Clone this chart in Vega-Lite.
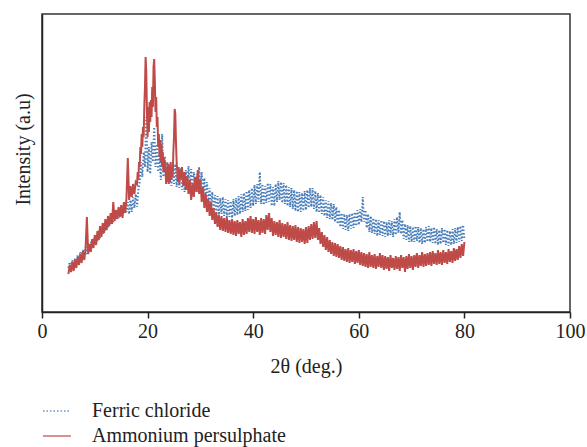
{
"$schema":"https://vega.github.io/schema/vega-lite/v6.json",
"width":528,"height":298,
"autosize":{"type":"none"},
"padding":{"left":42,"top":14,"right":17,"bottom":135},
"background":"white",
"config":{"view":{"stroke":"#333","strokeWidth":1.5},"font":"'Liberation Serif', 'Times New Roman', serif"},
"data":{"values":[
{"s":"F","t":5,"i":44},{"s":"F","t":5.25,"i":50},{"s":"F","t":5.5,"i":42},{"s":"F","t":5.75,"i":52},{"s":"F","t":6,"i":45},{"s":"F","t":6.25,"i":54},{"s":"F","t":6.5,"i":47},{"s":"F","t":6.75,"i":57},{"s":"F","t":7,"i":49},{"s":"F","t":7.25,"i":60},{"s":"F","t":7.5,"i":52},{"s":"F","t":7.75,"i":62},{"s":"F","t":8,"i":55},{"s":"F","t":8.25,"i":65},{"s":"F","t":8.5,"i":58},{"s":"F","t":8.75,"i":67},{"s":"F","t":9,"i":61},{"s":"F","t":9.25,"i":70},{"s":"F","t":9.5,"i":64},{"s":"F","t":9.75,"i":74},
{"s":"F","t":10,"i":67},{"s":"F","t":10.25,"i":77},{"s":"F","t":10.5,"i":71},{"s":"F","t":10.75,"i":81},{"s":"F","t":11,"i":74},{"s":"F","t":11.25,"i":84},{"s":"F","t":11.5,"i":78},{"s":"F","t":11.75,"i":88},{"s":"F","t":12,"i":81},{"s":"F","t":12.25,"i":91},{"s":"F","t":12.5,"i":84},{"s":"F","t":12.75,"i":94},{"s":"F","t":13,"i":87},{"s":"F","t":13.25,"i":96},{"s":"F","t":13.5,"i":90},{"s":"F","t":13.75,"i":99},{"s":"F","t":14,"i":92},{"s":"F","t":14.25,"i":101},{"s":"F","t":14.5,"i":94},{"s":"F","t":14.75,"i":103},
{"s":"F","t":15,"i":96},{"s":"F","t":15.25,"i":105},{"s":"F","t":15.5,"i":98},{"s":"F","t":15.75,"i":107},{"s":"F","t":16,"i":100},{"s":"F","t":16.25,"i":110},{"s":"F","t":16.5,"i":98},{"s":"F","t":16.75,"i":112},{"s":"F","t":17,"i":100},{"s":"F","t":17.25,"i":115},{"s":"F","t":17.5,"i":104},{"s":"F","t":17.75,"i":118},{"s":"F","t":18,"i":105},{"s":"F","t":18.25,"i":122},{"s":"F","t":18.5,"i":130},{"s":"F","t":18.75,"i":150},{"s":"F","t":19,"i":135},{"s":"F","t":19.25,"i":160},{"s":"F","t":19.5,"i":145},{"s":"F","t":19.75,"i":195},
{"s":"F","t":20,"i":140},{"s":"F","t":20.25,"i":165},{"s":"F","t":20.5,"i":138},{"s":"F","t":20.75,"i":170},{"s":"F","t":21,"i":150},{"s":"F","t":21.25,"i":185},{"s":"F","t":21.5,"i":145},{"s":"F","t":21.75,"i":168},{"s":"F","t":22,"i":140},{"s":"F","t":22.25,"i":158},{"s":"F","t":22.5,"i":132},{"s":"F","t":22.75,"i":178},{"s":"F","t":23,"i":135},{"s":"F","t":23.25,"i":156},{"s":"F","t":23.5,"i":130},{"s":"F","t":23.75,"i":150},{"s":"F","t":24,"i":128},{"s":"F","t":24.25,"i":148},{"s":"F","t":24.5,"i":126},{"s":"F","t":24.75,"i":146},
{"s":"F","t":25,"i":128},{"s":"F","t":25.25,"i":148},{"s":"F","t":25.5,"i":125},{"s":"F","t":25.75,"i":145},{"s":"F","t":26,"i":124},{"s":"F","t":26.25,"i":144},{"s":"F","t":26.5,"i":122},{"s":"F","t":26.75,"i":140},{"s":"F","t":27,"i":120},{"s":"F","t":27.25,"i":142},{"s":"F","t":27.5,"i":122},{"s":"F","t":27.75,"i":146},{"s":"F","t":28,"i":125},{"s":"F","t":28.25,"i":143},{"s":"F","t":28.5,"i":120},{"s":"F","t":28.75,"i":140},{"s":"F","t":29,"i":122},{"s":"F","t":29.25,"i":138},{"s":"F","t":29.5,"i":120},{"s":"F","t":29.75,"i":145},
{"s":"F","t":30,"i":126},{"s":"F","t":30.25,"i":140},{"s":"F","t":30.5,"i":118},{"s":"F","t":30.75,"i":134},{"s":"F","t":31,"i":112},{"s":"F","t":31.25,"i":130},{"s":"F","t":31.5,"i":108},{"s":"F","t":31.75,"i":124},{"s":"F","t":32,"i":104},{"s":"F","t":32.25,"i":120},{"s":"F","t":32.5,"i":100},{"s":"F","t":32.75,"i":117},{"s":"F","t":33,"i":99},{"s":"F","t":33.25,"i":116},{"s":"F","t":33.5,"i":97},{"s":"F","t":33.75,"i":114},{"s":"F","t":34,"i":98},{"s":"F","t":34.25,"i":115},{"s":"F","t":34.5,"i":96},{"s":"F","t":34.75,"i":113},
{"s":"F","t":35,"i":95},{"s":"F","t":35.25,"i":112},{"s":"F","t":35.5,"i":95},{"s":"F","t":35.75,"i":111},{"s":"F","t":36,"i":94},{"s":"F","t":36.25,"i":113},{"s":"F","t":36.5,"i":96},{"s":"F","t":36.75,"i":114},{"s":"F","t":37,"i":97},{"s":"F","t":37.25,"i":116},{"s":"F","t":37.5,"i":98},{"s":"F","t":37.75,"i":118},{"s":"F","t":38,"i":100},{"s":"F","t":38.25,"i":119},{"s":"F","t":38.5,"i":101},{"s":"F","t":38.75,"i":121},{"s":"F","t":39,"i":102},{"s":"F","t":39.25,"i":122},{"s":"F","t":39.5,"i":104},{"s":"F","t":39.75,"i":124},
{"s":"F","t":40,"i":106},{"s":"F","t":40.25,"i":127},{"s":"F","t":40.5,"i":108},{"s":"F","t":40.75,"i":128},{"s":"F","t":41,"i":110},{"s":"F","t":41.25,"i":140},{"s":"F","t":41.5,"i":108},{"s":"F","t":41.75,"i":128},{"s":"F","t":42,"i":107},{"s":"F","t":42.25,"i":126},{"s":"F","t":42.5,"i":109},{"s":"F","t":42.75,"i":129},{"s":"F","t":43,"i":110},{"s":"F","t":43.25,"i":128},{"s":"F","t":43.5,"i":106},{"s":"F","t":43.75,"i":125},{"s":"F","t":44,"i":106},{"s":"F","t":44.25,"i":128},{"s":"F","t":44.5,"i":110},{"s":"F","t":44.75,"i":131},
{"s":"F","t":45,"i":112},{"s":"F","t":45.25,"i":130},{"s":"F","t":45.5,"i":109},{"s":"F","t":45.75,"i":129},{"s":"F","t":46,"i":108},{"s":"F","t":46.25,"i":127},{"s":"F","t":46.5,"i":106},{"s":"F","t":46.75,"i":125},{"s":"F","t":47,"i":105},{"s":"F","t":47.25,"i":124},{"s":"F","t":47.5,"i":103},{"s":"F","t":47.75,"i":122},{"s":"F","t":48,"i":101},{"s":"F","t":48.25,"i":121},{"s":"F","t":48.5,"i":100},{"s":"F","t":48.75,"i":120},{"s":"F","t":49,"i":100},{"s":"F","t":49.25,"i":119},{"s":"F","t":49.5,"i":101},{"s":"F","t":49.75,"i":121},
{"s":"F","t":50,"i":102},{"s":"F","t":50.25,"i":122},{"s":"F","t":50.5,"i":104},{"s":"F","t":50.75,"i":124},{"s":"F","t":51,"i":105},{"s":"F","t":51.25,"i":124},{"s":"F","t":51.5,"i":103},{"s":"F","t":51.75,"i":121},{"s":"F","t":52,"i":100},{"s":"F","t":52.25,"i":119},{"s":"F","t":52.5,"i":99},{"s":"F","t":52.75,"i":117},{"s":"F","t":53,"i":98},{"s":"F","t":53.25,"i":115},{"s":"F","t":53.5,"i":96},{"s":"F","t":53.75,"i":112},{"s":"F","t":54,"i":94},{"s":"F","t":54.25,"i":111},{"s":"F","t":54.5,"i":93},{"s":"F","t":54.75,"i":109},
{"s":"F","t":55,"i":92},{"s":"F","t":55.25,"i":108},{"s":"F","t":55.5,"i":90},{"s":"F","t":55.75,"i":105},{"s":"F","t":56,"i":88},{"s":"F","t":56.25,"i":102},{"s":"F","t":56.5,"i":85},{"s":"F","t":56.75,"i":99},{"s":"F","t":57,"i":83},{"s":"F","t":57.25,"i":98},{"s":"F","t":57.5,"i":82},{"s":"F","t":57.75,"i":97},{"s":"F","t":58,"i":81},{"s":"F","t":58.25,"i":98},{"s":"F","t":58.5,"i":83},{"s":"F","t":58.75,"i":99},{"s":"F","t":59,"i":84},{"s":"F","t":59.25,"i":100},{"s":"F","t":59.5,"i":86},{"s":"F","t":59.75,"i":102},
{"s":"F","t":60,"i":87},{"s":"F","t":60.25,"i":103},{"s":"F","t":60.5,"i":90},{"s":"F","t":60.75,"i":115},{"s":"F","t":61,"i":90},{"s":"F","t":61.25,"i":102},{"s":"F","t":61.5,"i":84},{"s":"F","t":61.75,"i":98},{"s":"F","t":62,"i":80},{"s":"F","t":62.25,"i":96},{"s":"F","t":62.5,"i":79},{"s":"F","t":62.75,"i":94},{"s":"F","t":63,"i":78},{"s":"F","t":63.25,"i":93},{"s":"F","t":63.5,"i":76},{"s":"F","t":63.75,"i":92},{"s":"F","t":64,"i":77},{"s":"F","t":64.25,"i":92},{"s":"F","t":64.5,"i":76},{"s":"F","t":64.75,"i":91},
{"s":"F","t":65,"i":75},{"s":"F","t":65.25,"i":90},{"s":"F","t":65.5,"i":76},{"s":"F","t":65.75,"i":92},{"s":"F","t":66,"i":77},{"s":"F","t":66.25,"i":91},{"s":"F","t":66.5,"i":75},{"s":"F","t":66.75,"i":93},{"s":"F","t":67,"i":77},{"s":"F","t":67.25,"i":95},{"s":"F","t":67.5,"i":79},{"s":"F","t":67.75,"i":100},{"s":"F","t":68,"i":78},{"s":"F","t":68.25,"i":92},{"s":"F","t":68.5,"i":73},{"s":"F","t":68.75,"i":88},{"s":"F","t":69,"i":72},{"s":"F","t":69.25,"i":87},{"s":"F","t":69.5,"i":70},{"s":"F","t":69.75,"i":86},
{"s":"F","t":70,"i":70},{"s":"F","t":70.25,"i":85},{"s":"F","t":70.5,"i":70},{"s":"F","t":70.75,"i":86},{"s":"F","t":71,"i":71},{"s":"F","t":71.25,"i":85},{"s":"F","t":71.5,"i":69},{"s":"F","t":71.75,"i":84},{"s":"F","t":72,"i":68},{"s":"F","t":72.25,"i":83},{"s":"F","t":72.5,"i":69},{"s":"F","t":72.75,"i":85},{"s":"F","t":73,"i":70},{"s":"F","t":73.25,"i":86},{"s":"F","t":73.5,"i":70},{"s":"F","t":73.75,"i":84},{"s":"F","t":74,"i":69},{"s":"F","t":74.25,"i":85},{"s":"F","t":74.5,"i":68},{"s":"F","t":74.75,"i":83},
{"s":"F","t":75,"i":67},{"s":"F","t":75.25,"i":82},{"s":"F","t":75.5,"i":68},{"s":"F","t":75.75,"i":84},{"s":"F","t":76,"i":69},{"s":"F","t":76.25,"i":83},{"s":"F","t":76.5,"i":67},{"s":"F","t":76.75,"i":82},{"s":"F","t":77,"i":66},{"s":"F","t":77.25,"i":81},{"s":"F","t":77.5,"i":67},{"s":"F","t":77.75,"i":83},{"s":"F","t":78,"i":68},{"s":"F","t":78.25,"i":84},{"s":"F","t":78.5,"i":69},{"s":"F","t":78.75,"i":85},{"s":"F","t":79,"i":70},{"s":"F","t":79.25,"i":86},{"s":"F","t":79.5,"i":71},{"s":"F","t":79.75,"i":87},{"s":"F","t":80,"i":73},
{"s":"A","t":5,"i":38},{"s":"A","t":5.25,"i":47},{"s":"A","t":5.5,"i":40},{"s":"A","t":5.75,"i":50},{"s":"A","t":6,"i":41},{"s":"A","t":6.25,"i":52},{"s":"A","t":6.5,"i":44},{"s":"A","t":6.75,"i":55},{"s":"A","t":7,"i":47},{"s":"A","t":7.25,"i":58},{"s":"A","t":7.5,"i":49},{"s":"A","t":7.75,"i":61},{"s":"A","t":8,"i":52},{"s":"A","t":8.25,"i":63},{"s":"A","t":8.5,"i":95},{"s":"A","t":8.75,"i":58},{"s":"A","t":9,"i":68},{"s":"A","t":9.25,"i":60},{"s":"A","t":9.5,"i":73},{"s":"A","t":9.75,"i":64},
{"s":"A","t":10,"i":77},{"s":"A","t":10.25,"i":67},{"s":"A","t":10.5,"i":81},{"s":"A","t":10.75,"i":72},{"s":"A","t":11,"i":86},{"s":"A","t":11.25,"i":75},{"s":"A","t":11.5,"i":89},{"s":"A","t":11.75,"i":79},{"s":"A","t":12,"i":93},{"s":"A","t":12.25,"i":82},{"s":"A","t":12.5,"i":96},{"s":"A","t":12.75,"i":86},{"s":"A","t":13,"i":99},{"s":"A","t":13.25,"i":88},{"s":"A","t":13.5,"i":110},{"s":"A","t":13.75,"i":91},{"s":"A","t":14,"i":102},{"s":"A","t":14.25,"i":93},{"s":"A","t":14.5,"i":105},{"s":"A","t":14.75,"i":95},
{"s":"A","t":15,"i":107},{"s":"A","t":15.25,"i":94},{"s":"A","t":15.5,"i":110},{"s":"A","t":15.75,"i":99},{"s":"A","t":16,"i":114},{"s":"A","t":16.25,"i":154},{"s":"A","t":16.5,"i":112},{"s":"A","t":16.75,"i":126},{"s":"A","t":17,"i":115},{"s":"A","t":17.25,"i":128},{"s":"A","t":17.5,"i":118},{"s":"A","t":17.75,"i":130},
{"s":"A","t":18,"i":128},{"s":"A","t":18.125,"i":140},{"s":"A","t":18.25,"i":132},{"s":"A","t":18.375,"i":150},{"s":"A","t":18.5,"i":145},{"s":"A","t":18.625,"i":165},{"s":"A","t":18.75,"i":158},{"s":"A","t":18.875,"i":178},{"s":"A","t":19,"i":165},{"s":"A","t":19.125,"i":185},{"s":"A","t":19.25,"i":175},{"s":"A","t":19.375,"i":205},{"s":"A","t":19.5,"i":225},{"s":"A","t":19.625,"i":255},{"s":"A","t":19.75,"i":240},{"s":"A","t":19.875,"i":200},
{"s":"A","t":20,"i":175},{"s":"A","t":20.125,"i":205},{"s":"A","t":20.25,"i":180},{"s":"A","t":20.375,"i":210},{"s":"A","t":20.5,"i":190},{"s":"A","t":20.625,"i":212},{"s":"A","t":20.75,"i":195},{"s":"A","t":20.875,"i":225},{"s":"A","t":21,"i":205},{"s":"A","t":21.125,"i":245},{"s":"A","t":21.25,"i":253},{"s":"A","t":21.375,"i":230},{"s":"A","t":21.5,"i":200},{"s":"A","t":21.625,"i":215},{"s":"A","t":21.75,"i":185},{"s":"A","t":21.875,"i":195},
{"s":"A","t":22,"i":165},{"s":"A","t":22.125,"i":178},{"s":"A","t":22.25,"i":155},{"s":"A","t":22.375,"i":172},{"s":"A","t":22.5,"i":150},{"s":"A","t":22.625,"i":168},{"s":"A","t":22.75,"i":145},{"s":"A","t":22.875,"i":160},{"s":"A","t":23,"i":140},{"s":"A","t":23.125,"i":155},{"s":"A","t":23.25,"i":140},{"s":"A","t":23.375,"i":150},{"s":"A","t":23.5,"i":128},{"s":"A","t":23.625,"i":145},{"s":"A","t":23.75,"i":130},{"s":"A","t":23.875,"i":148},
{"s":"A","t":24,"i":128},{"s":"A","t":24.125,"i":145},{"s":"A","t":24.25,"i":130},{"s":"A","t":24.375,"i":150},{"s":"A","t":24.5,"i":132},{"s":"A","t":24.625,"i":145},{"s":"A","t":24.75,"i":135},{"s":"A","t":24.875,"i":160},{"s":"A","t":25,"i":175},{"s":"A","t":25.125,"i":203},{"s":"A","t":25.25,"i":198},{"s":"A","t":25.375,"i":170},{"s":"A","t":25.5,"i":150},{"s":"A","t":25.625,"i":140},{"s":"A","t":25.75,"i":130},{"s":"A","t":25.875,"i":145},
{"s":"A","t":26,"i":128},{"s":"A","t":26.125,"i":142},{"s":"A","t":26.25,"i":133},{"s":"A","t":26.5,"i":145},{"s":"A","t":26.75,"i":126},{"s":"A","t":27,"i":140},{"s":"A","t":27.25,"i":122},{"s":"A","t":27.5,"i":136},{"s":"A","t":27.75,"i":118},{"s":"A","t":28,"i":132},{"s":"A","t":28.25,"i":112},{"s":"A","t":28.5,"i":128},{"s":"A","t":28.75,"i":115},{"s":"A","t":29,"i":135},{"s":"A","t":29.25,"i":120},{"s":"A","t":29.5,"i":142},{"s":"A","t":29.75,"i":118},
{"s":"A","t":30,"i":132},{"s":"A","t":30.25,"i":110},{"s":"A","t":30.5,"i":125},{"s":"A","t":30.75,"i":104},{"s":"A","t":31,"i":118},{"s":"A","t":31.25,"i":100},{"s":"A","t":31.5,"i":113},{"s":"A","t":31.75,"i":96},{"s":"A","t":32,"i":110},{"s":"A","t":32.25,"i":92},{"s":"A","t":32.5,"i":104},{"s":"A","t":32.75,"i":88},{"s":"A","t":33,"i":100},{"s":"A","t":33.25,"i":85},{"s":"A","t":33.5,"i":97},{"s":"A","t":33.75,"i":82},{"s":"A","t":34,"i":96},{"s":"A","t":34.25,"i":81},{"s":"A","t":34.5,"i":94},{"s":"A","t":34.75,"i":80},
{"s":"A","t":35,"i":95},{"s":"A","t":35.25,"i":79},{"s":"A","t":35.5,"i":92},{"s":"A","t":35.75,"i":78},{"s":"A","t":36,"i":93},{"s":"A","t":36.25,"i":77},{"s":"A","t":36.5,"i":91},{"s":"A","t":36.75,"i":76},{"s":"A","t":37,"i":92},{"s":"A","t":37.25,"i":78},{"s":"A","t":37.5,"i":90},{"s":"A","t":37.75,"i":75},{"s":"A","t":38,"i":93},{"s":"A","t":38.25,"i":77},{"s":"A","t":38.5,"i":91},{"s":"A","t":38.75,"i":78},{"s":"A","t":39,"i":94},{"s":"A","t":39.25,"i":80},{"s":"A","t":39.5,"i":96},{"s":"A","t":39.75,"i":79},
{"s":"A","t":40,"i":93},{"s":"A","t":40.25,"i":78},{"s":"A","t":40.5,"i":95},{"s":"A","t":40.75,"i":80},{"s":"A","t":41,"i":92},{"s":"A","t":41.25,"i":77},{"s":"A","t":41.5,"i":94},{"s":"A","t":41.75,"i":79},{"s":"A","t":42,"i":93},{"s":"A","t":42.25,"i":78},{"s":"A","t":42.5,"i":97},{"s":"A","t":42.75,"i":82},{"s":"A","t":43,"i":99},{"s":"A","t":43.25,"i":80},{"s":"A","t":43.5,"i":94},{"s":"A","t":43.75,"i":76},{"s":"A","t":44,"i":91},{"s":"A","t":44.25,"i":77},{"s":"A","t":44.5,"i":90},{"s":"A","t":44.75,"i":75},
{"s":"A","t":45,"i":92},{"s":"A","t":45.25,"i":74},{"s":"A","t":45.5,"i":89},{"s":"A","t":45.75,"i":75},{"s":"A","t":46,"i":88},{"s":"A","t":46.25,"i":73},{"s":"A","t":46.5,"i":90},{"s":"A","t":46.75,"i":72},{"s":"A","t":47,"i":87},{"s":"A","t":47.25,"i":71},{"s":"A","t":47.5,"i":86},{"s":"A","t":47.75,"i":72},{"s":"A","t":48,"i":87},{"s":"A","t":48.25,"i":70},{"s":"A","t":48.5,"i":85},{"s":"A","t":48.75,"i":69},{"s":"A","t":49,"i":84},{"s":"A","t":49.25,"i":70},{"s":"A","t":49.5,"i":83},{"s":"A","t":49.75,"i":68},
{"s":"A","t":50,"i":85},{"s":"A","t":50.25,"i":69},{"s":"A","t":50.5,"i":86},{"s":"A","t":50.75,"i":72},{"s":"A","t":51,"i":88},{"s":"A","t":51.25,"i":73},{"s":"A","t":51.5,"i":90},{"s":"A","t":51.75,"i":74},{"s":"A","t":52,"i":91},{"s":"A","t":52.25,"i":72},{"s":"A","t":52.5,"i":84},{"s":"A","t":52.75,"i":68},{"s":"A","t":53,"i":80},{"s":"A","t":53.25,"i":65},{"s":"A","t":53.5,"i":77},{"s":"A","t":53.75,"i":62},{"s":"A","t":54,"i":75},{"s":"A","t":54.25,"i":60},{"s":"A","t":54.5,"i":72},{"s":"A","t":54.75,"i":58},
{"s":"A","t":55,"i":70},{"s":"A","t":55.25,"i":56},{"s":"A","t":55.5,"i":69},{"s":"A","t":55.75,"i":55},{"s":"A","t":56,"i":68},{"s":"A","t":56.25,"i":54},{"s":"A","t":56.5,"i":66},{"s":"A","t":56.75,"i":52},{"s":"A","t":57,"i":65},{"s":"A","t":57.25,"i":51},{"s":"A","t":57.5,"i":63},{"s":"A","t":57.75,"i":50},{"s":"A","t":58,"i":64},{"s":"A","t":58.25,"i":49},{"s":"A","t":58.5,"i":62},{"s":"A","t":58.75,"i":50},{"s":"A","t":59,"i":63},{"s":"A","t":59.25,"i":48},{"s":"A","t":59.5,"i":61},{"s":"A","t":59.75,"i":49},
{"s":"A","t":60,"i":62},{"s":"A","t":60.25,"i":47},{"s":"A","t":60.5,"i":60},{"s":"A","t":60.75,"i":46},{"s":"A","t":61,"i":59},{"s":"A","t":61.25,"i":45},{"s":"A","t":61.5,"i":58},{"s":"A","t":61.75,"i":44},{"s":"A","t":62,"i":60},{"s":"A","t":62.25,"i":45},{"s":"A","t":62.5,"i":57},{"s":"A","t":62.75,"i":44},{"s":"A","t":63,"i":58},{"s":"A","t":63.25,"i":43},{"s":"A","t":63.5,"i":56},{"s":"A","t":63.75,"i":45},{"s":"A","t":64,"i":59},{"s":"A","t":64.25,"i":44},{"s":"A","t":64.5,"i":57},{"s":"A","t":64.75,"i":42},
{"s":"A","t":65,"i":56},{"s":"A","t":65.25,"i":43},{"s":"A","t":65.5,"i":55},{"s":"A","t":65.75,"i":41},{"s":"A","t":66,"i":57},{"s":"A","t":66.25,"i":44},{"s":"A","t":66.5,"i":54},{"s":"A","t":66.75,"i":42},{"s":"A","t":67,"i":56},{"s":"A","t":67.25,"i":43},{"s":"A","t":67.5,"i":55},{"s":"A","t":67.75,"i":41},{"s":"A","t":68,"i":57},{"s":"A","t":68.25,"i":44},{"s":"A","t":68.5,"i":55},{"s":"A","t":68.75,"i":40},{"s":"A","t":69,"i":56},{"s":"A","t":69.25,"i":43},{"s":"A","t":69.5,"i":58},{"s":"A","t":69.75,"i":44},
{"s":"A","t":70,"i":56},{"s":"A","t":70.25,"i":42},{"s":"A","t":70.5,"i":57},{"s":"A","t":70.75,"i":45},{"s":"A","t":71,"i":59},{"s":"A","t":71.25,"i":44},{"s":"A","t":71.5,"i":57},{"s":"A","t":71.75,"i":46},{"s":"A","t":72,"i":60},{"s":"A","t":72.25,"i":45},{"s":"A","t":72.5,"i":58},{"s":"A","t":72.75,"i":46},{"s":"A","t":73,"i":59},{"s":"A","t":73.25,"i":47},{"s":"A","t":73.5,"i":60},{"s":"A","t":73.75,"i":46},{"s":"A","t":74,"i":61},{"s":"A","t":74.25,"i":48},{"s":"A","t":74.5,"i":59},{"s":"A","t":74.75,"i":47},
{"s":"A","t":75,"i":62},{"s":"A","t":75.25,"i":48},{"s":"A","t":75.5,"i":60},{"s":"A","t":75.75,"i":47},{"s":"A","t":76,"i":62},{"s":"A","t":76.25,"i":49},{"s":"A","t":76.5,"i":60},{"s":"A","t":76.75,"i":48},{"s":"A","t":77,"i":63},{"s":"A","t":77.25,"i":50},{"s":"A","t":77.5,"i":61},{"s":"A","t":77.75,"i":49},{"s":"A","t":78,"i":64},{"s":"A","t":78.25,"i":51},{"s":"A","t":78.5,"i":63},{"s":"A","t":78.75,"i":52},{"s":"A","t":79,"i":66},{"s":"A","t":79.25,"i":54},{"s":"A","t":79.5,"i":68},{"s":"A","t":79.75,"i":56},{"s":"A","t":80,"i":70}
]},
"mark":{"type":"line","strokeWidth":2,"clip":true},
"encoding":{
"x":{"field":"t","type":"quantitative","scale":{"domain":[0,100],"nice":false},
"axis":{"values":[0,20,40,60,80,100],"grid":false,"tickSize":6,"tickColor":"#222","tickWidth":1.5,"domainColor":"#222","domainWidth":1.5,"labelFont":"'Liberation Serif', 'Times New Roman', serif","labelFontSize":20,"labelColor":"#222","labelPadding":3,"labelFlush":false,"title":"2θ (deg.)","titleFont":"'Liberation Serif', 'Times New Roman', serif","titleFontSize":20,"titleFontWeight":"normal","titleColor":"#222","titlePadding":15}},
"y":{"field":"i","type":"quantitative","scale":{"domain":[0,298],"nice":false,"zero":false},
"axis":{"ticks":false,"labels":false,"grid":false,"domainColor":"#222","domainWidth":1.5,"title":"Intensity (a.u)","titleFont":"'Liberation Serif', 'Times New Roman', serif","titleFontSize":20,"titleFontWeight":"normal","titleColor":"#222","titleX":-19,"titleY":135,"titleAngle":-90,"titleAlign":"center","titleBaseline":"middle"}},
"color":{"field":"s","type":"nominal","scale":{"domain":["F","A"],"range":["#4a7ebb","#be4b48"]},
"legend":{"orient":"none","legendX":0,"legendY":382,"direction":"vertical","title":null,"padding":0,"symbolType":"stroke","symbolSize":784,"symbolStrokeWidth":1.5,"symbolOpacity":0.8,"labelFont":"'Liberation Serif', 'Times New Roman', serif","labelFontSize":20,"labelColor":"#222","labelOffset":20,"labelLimit":400,"rowPadding":0,"labelExpr":"datum.label == 'F' ? 'Ferric chloride' : 'Ammonium persulphate'"}},
"strokeDash":{"field":"s","type":"nominal","scale":{"domain":["F","A"],"range":[[1.5,2],[1,0]]},
"legend":{"orient":"none","legendX":0,"legendY":382,"direction":"vertical","title":null,"padding":0,"symbolType":"stroke","symbolSize":784,"symbolStrokeWidth":1.5,"symbolOpacity":0.8,"labelFont":"'Liberation Serif', 'Times New Roman', serif","labelFontSize":20,"labelColor":"#222","labelOffset":20,"labelLimit":400,"rowPadding":0,"labelExpr":"datum.label == 'F' ? 'Ferric chloride' : 'Ammonium persulphate'"}}
}
}
